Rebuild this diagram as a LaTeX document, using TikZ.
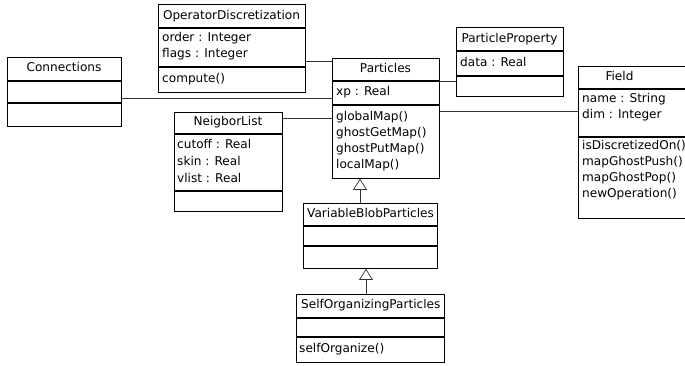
\documentclass[tikz,border=0pt]{standalone}
\usepackage{fontspec}
\setmainfont{DejaVu Sans}
\usetikzlibrary{arrows.meta}
\begin{document}
\begin{tikzpicture}[x=1pt,y=-1pt,
  umlbox/.style={draw=black,line width=0.8pt,rectangle,inner sep=0pt,anchor=north west},
  sepline/.style={line width=1.5pt,black},
  link/.style={line width=0.7pt,draw=black!80},
  inh/.style={line width=0.7pt,draw=black!80,-{Triangle[open,length=11pt,width=14pt,fill=white]}},
  ttl/.style={inner sep=0pt,font=\fontsize{12.1}{14}\selectfont},
  attr/.style={inner sep=0pt,anchor=west,font=\fontsize{12.1}{14}\selectfont}]
\useasboundingbox (0,0) rectangle (685,365);
\clip (0,0) rectangle (685,365);
% OperatorDiscretization
\node[umlbox,minimum width=147pt,minimum height=88pt] (od) at (158,4) {};
\draw[sepline] (od.west |- 0,28) -- (od.east |- 0,28);
\draw[sepline] (od.west |- 0,67) -- (od.east |- 0,67);
\node[ttl] (odt) at (231.5,16) {OperatorDiscretization};
\node[attr] (oda1) at (162,38) {order : Integer};
\node[attr] (oda2) at (162,54) {flags : Integer};
\node[attr] (odm1) at (162,79) {compute()};
% Connections
\node[umlbox,minimum width=114pt,minimum height=69pt] (conn) at (7,57) {};
\draw[sepline] (conn.west |- 0,81) -- (conn.east |- 0,81);
\draw[sepline] (conn.west |- 0,103) -- (conn.east |- 0,103);
\node[ttl] (connt) at (64,67) {Connections};
% ParticleProperty
\node[umlbox,minimum width=107pt,minimum height=69pt] (pp) at (456,27) {};
\draw[sepline] (pp.west |- 0,51) -- (pp.east |- 0,51);
\draw[sepline] (pp.west |- 0,76) -- (pp.east |- 0,76);
\node[ttl] (ppt) at (509.5,39) {ParticleProperty};
\node[attr] (ppa1) at (460,62) {data : Real};
% Particles
\node[umlbox,minimum width=107pt,minimum height=120pt] (part) at (332,58) {};
\draw[sepline] (part.west |- 0,81) -- (part.east |- 0,81);
\draw[sepline] (part.west |- 0,105) -- (part.east |- 0,105);
\node[ttl] (partt) at (385.5,68) {Particles};
\node[attr] (parta1) at (336,92) {xp : Real};
\node[attr] (partm1) at (336,117) {globalMap()};
\node[attr] (partm2) at (336,133) {ghostGetMap()};
\node[attr] (partm3) at (336,149) {ghostPutMap()};
\node[attr] (partm4) at (336,165) {localMap()};
% Field
\node[umlbox,minimum width=130pt,minimum height=152pt] (field) at (578,66) {};
\draw[sepline] (field.west |- 0,89) -- (field.east |- 0,89);
\draw[sepline] (field.west |- 0,137) -- (field.east |- 0,137);
\node[ttl] (fieldt) at (619.5,76) {Field};
\node[attr] (fielda1) at (582,99) {name : String};
\node[attr] (fielda2) at (582,115) {dim : Integer};
\node[attr] (fieldm1) at (582,146) {isDiscretizedOn()};
\node[attr] (fieldm2) at (582,162) {mapGhostPush()};
\node[attr] (fieldm3) at (582,178) {mapGhostPop()};
\node[attr] (fieldm4) at (582,194) {newOperation()};
% NeigborList
\node[umlbox,minimum width=108pt,minimum height=99pt] (nl) at (174,112) {};
\draw[sepline] (nl.west |- 0,134) -- (nl.east |- 0,134);
\draw[sepline] (nl.west |- 0,191) -- (nl.east |- 0,191);
\node[ttl] (nlt) at (228,122) {NeigborList};
\node[attr] (nla1) at (177,144) {cutoff : Real};
\node[attr] (nla2) at (177,161) {skin : Real};
\node[attr] (nla3) at (177,178) {vlist : Real};
% VariableBlobParticles
\node[umlbox,minimum width=134pt,minimum height=65pt] (vbp) at (303,203) {};
\draw[sepline] (vbp.west |- 0,226) -- (vbp.east |- 0,226);
\draw[sepline] (vbp.west |- 0,246) -- (vbp.east |- 0,246);
\node[attr] (vbpt) at (307,213) {VariableBlobParticles};
% SelfOrganizingParticles
\node[umlbox,minimum width=148pt,minimum height=68pt] (sop) at (296,294) {};
\draw[sepline] (sop.west |- 0,318) -- (sop.east |- 0,318);
\draw[sepline] (sop.west |- 0,337) -- (sop.east |- 0,337);
\node[attr] (sopt) at (301,305) {SelfOrganizingParticles};
\node[attr] (sopm1) at (299,349) {selfOrganize()};
% connectors
\draw[link] (od.east |- 0,61) -- (part.west |- 0,61);
\draw[link] (conn.east |- 0,98) -- (part.west |- 0,98);
\draw[link] (nl.east |- 0,118) -- (part.west |- 0,118);
\draw[link] (part.east |- 0,81) -- (pp.west |- 0,81);
\draw[link] (part.east |- 0,111) -- (field.west |- 0,111);
\draw[inh] (vbp.north -| 360,0) -- (part.south -| 360,0);
\draw[inh] (sop.north -| 366,0) -- (vbp.south -| 366,0);
\end{tikzpicture}
\end{document}
